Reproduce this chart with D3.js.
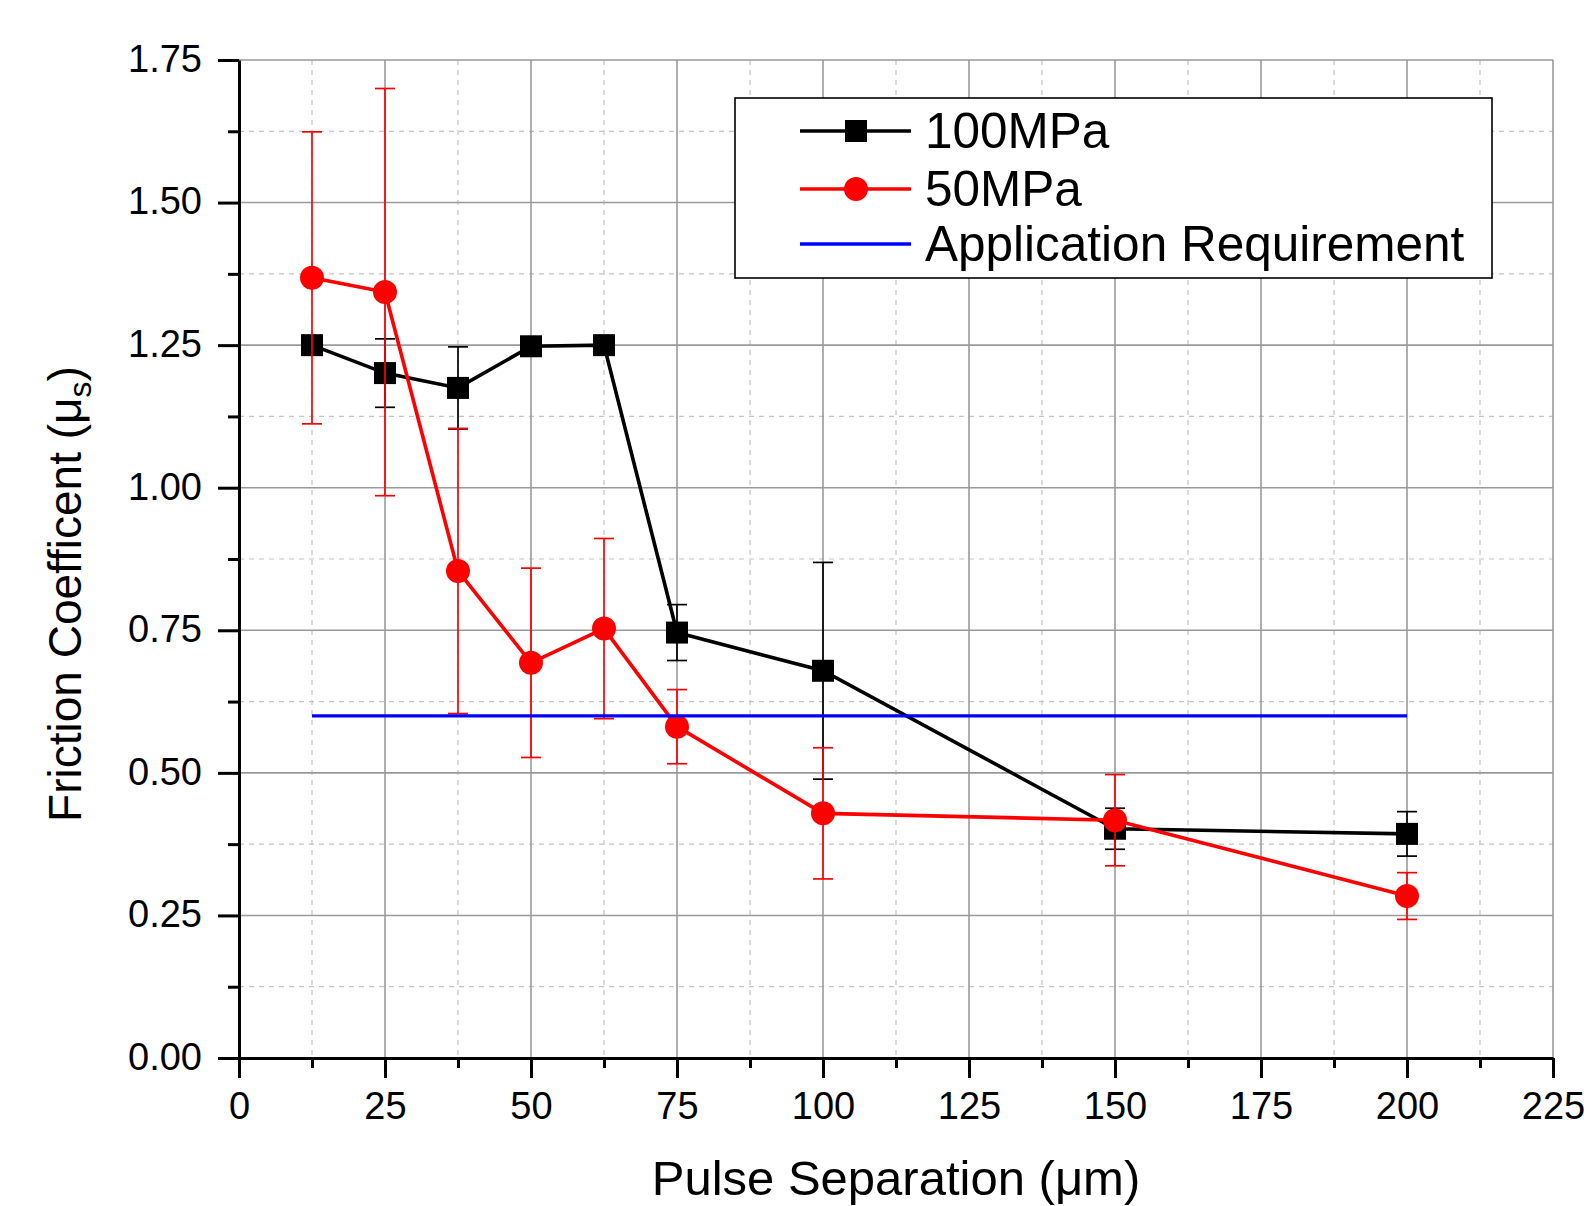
<!DOCTYPE html>
<html>
<head>
<meta charset="utf-8">
<script src="https://cdn.jsdelivr.net/npm/d3@7"></script>
<style>
body { margin: 0; background: #fff; }
text { font-family: "Liberation Sans", Arial, sans-serif; fill: #000; }
</style>
</head>
<body>
<svg id="chart" width="1584" height="1206"></svg>
<script>
var separation = [12.5, 25, 37.5, 50, 62.5, 75, 100, 150, 200],
    friction100 = [1.25, 1.201, 1.175, 1.248, 1.25, 0.746, 0.679, 0.402, 0.393],
    err100 = [0, 0.06, 0.072, 0, 0, 0.049, 0.19, 0.036, 0.039],
    friction50 = [1.368, 1.343, 0.854, 0.693, 0.753, 0.581, 0.429, 0.417, 0.284],
    err50 = [0.256, 0.357, 0.25, 0.166, 0.158, 0.065, 0.115, 0.08, 0.041],
    requirement = [0.6, 0.6],
    requirementX = [12.5, 200],
    xTicks = [0, 25, 50, 75, 100, 125, 150, 175, 200, 225],
    yTicks = [0, 0.25, 0.5, 0.75, 1, 1.25, 1.5, 1.75],
    seriesNames = ['100MPa', '50MPa', 'Application Requirement'];

var svg = d3.select('#chart'),
    plotL = 239, plotR = 1553, plotT = 60, plotB = 1058,
    x = d3.scaleLinear().domain([0, 225]).range([plotL, plotR]),
    y = d3.scaleLinear().domain([0, 1.75]).range([plotB, plotT]),
    xMinor = d3.range(12.5, 225, 25),
    yMinor = d3.range(0.125, 1.75, 0.25);

// grid: dashed minor first, then solid major
var grid = svg.append('g');
grid.selectAll('line.xm').data(xMinor).enter().append('line')
    .attr('x1', x).attr('x2', x).attr('y1', plotT).attr('y2', plotB)
    .attr('stroke', '#c4c4c4').attr('stroke-width', 1.2).attr('stroke-dasharray', '5,5');
grid.selectAll('line.ym').data(yMinor).enter().append('line')
    .attr('y1', y).attr('y2', y).attr('x1', plotL).attr('x2', plotR)
    .attr('stroke', '#c4c4c4').attr('stroke-width', 1.2).attr('stroke-dasharray', '5,5');
grid.selectAll('line.xM').data(xTicks.slice(1)).enter().append('line')
    .attr('x1', x).attr('x2', x).attr('y1', plotT).attr('y2', plotB)
    .attr('stroke', '#9a9a9a').attr('stroke-width', 1.6);
grid.selectAll('line.yM').data(yTicks.slice(1)).enter().append('line')
    .attr('y1', y).attr('y2', y).attr('x1', plotL).attr('x2', plotR)
    .attr('stroke', '#9a9a9a').attr('stroke-width', 1.6);

// axes
function styleAxis(g) {
    g.select('.domain').attr('stroke', '#000').attr('stroke-width', 3);
    g.selectAll('.tick line').attr('stroke', '#000').attr('stroke-width', 3);
}
var xAxis = svg.append('g').attr('transform', 'translate(0,' + plotB + ')')
    .call(d3.axisBottom(x).tickValues(xTicks).tickSize(20).tickSizeOuter(0).tickPadding(14).tickFormat(d3.format('d')))
    .call(styleAxis);
xAxis.selectAll('.tick text').attr('font-size', 38).attr('font-family', '"Liberation Sans", Arial, sans-serif').attr('fill', '#000');
svg.append('g').attr('transform', 'translate(0,' + plotB + ')')
    .call(d3.axisBottom(x).tickValues(xMinor).tickSize(10).tickFormat(''))
    .call(styleAxis).select('.domain').remove();

var yAxis = svg.append('g').attr('transform', 'translate(' + plotL + ',0)')
    .call(d3.axisLeft(y).tickValues(yTicks).tickSize(21).tickSizeOuter(0).tickPadding(16).tickFormat(d3.format('.2f')))
    .call(styleAxis);
yAxis.selectAll('.tick text').attr('font-size', 38).attr('font-family', '"Liberation Sans", Arial, sans-serif').attr('fill', '#000').attr('dy', '0.30em');
svg.append('g').attr('transform', 'translate(' + plotL + ',0)')
    .call(d3.axisLeft(y).tickValues(yMinor).tickSize(11).tickFormat(''))
    .call(styleAxis).select('.domain').remove();

// axis titles
svg.append('text').attr('x', 896).attr('y', 1195)
    .attr('text-anchor', 'middle').attr('font-size', 49)
    .text('Pulse Separation (\u03bcm)');
var yt = svg.append('text').attr('transform', 'translate(81,594) rotate(-90)')
    .attr('text-anchor', 'middle').attr('font-size', 46);
yt.append('tspan').text('Friction Coefficent (\u03bc');
yt.append('tspan').attr('font-size', 32).attr('dy', 10).text('s');
yt.append('tspan').attr('dy', -10).text(')');

// series
function drawSeries(vals, errs, color, marker) {
    var g = svg.append('g'),
        pts = separation.map(function (s, i) { return {x: s, y: vals[i], e: errs[i]}; }),
        bars = pts.filter(function (d) { return d.e > 0; });
    g.append('path').datum(pts)
        .attr('d', d3.line().x(function (d) { return x(d.x); }).y(function (d) { return y(d.y); }))
        .attr('fill', 'none').attr('stroke', color).attr('stroke-width', 3.6);
    g.selectAll('line.eb').data(bars).enter().append('line')
        .attr('x1', function (d) { return x(d.x); }).attr('x2', function (d) { return x(d.x); })
        .attr('y1', function (d) { return y(d.y + d.e); }).attr('y2', function (d) { return y(d.y - d.e); })
        .attr('stroke', color).attr('stroke-width', 1.7);
    [1, -1].forEach(function (sgn) {
        g.selectAll('line.cap' + sgn).data(bars).enter().append('line')
            .attr('x1', function (d) { return x(d.x) - 10; }).attr('x2', function (d) { return x(d.x) + 10; })
            .attr('y1', function (d) { return y(d.y + sgn * d.e); }).attr('y2', function (d) { return y(d.y + sgn * d.e); })
            .attr('stroke', color).attr('stroke-width', 1.7);
    });
    if (marker === 'square') {
        g.selectAll('rect').data(pts).enter().append('rect')
            .attr('x', function (d) { return x(d.x) - 11; }).attr('y', function (d) { return y(d.y) - 11; })
            .attr('width', 22).attr('height', 22).attr('fill', color);
    } else {
        g.selectAll('circle').data(pts).enter().append('circle')
            .attr('cx', function (d) { return x(d.x); }).attr('cy', function (d) { return y(d.y); })
            .attr('r', 12).attr('fill', color);
    }
}
drawSeries(friction100, err100, '#000', 'square');
drawSeries(friction50, err50, '#ff0000', 'circle');

svg.append('line')
    .attr('x1', x(requirementX[0])).attr('x2', x(requirementX[1]))
    .attr('y1', y(requirement[0])).attr('y2', y(requirement[1]))
    .attr('stroke', '#0000ff').attr('stroke-width', 3.4);

// legend
var lg = svg.append('g');
lg.append('rect').attr('x', 735).attr('y', 98).attr('width', 757).attr('height', 180)
    .attr('fill', '#fff').attr('stroke', '#000').attr('stroke-width', 1.6);
var rowY = [131, 189, 244],
    rowColor = ['#000', '#ff0000', '#0000ff'];
seriesNames.forEach(function (name, i) {
    lg.append('line').attr('x1', 800).attr('x2', 911).attr('y1', rowY[i]).attr('y2', rowY[i])
        .attr('stroke', rowColor[i]).attr('stroke-width', 3.6);
    if (i === 0) {
        lg.append('rect').attr('x', 845).attr('y', rowY[i] - 11).attr('width', 22).attr('height', 22).attr('fill', '#000');
    } else if (i === 1) {
        lg.append('circle').attr('cx', 856).attr('cy', rowY[i]).attr('r', 12).attr('fill', '#ff0000');
    }
    lg.append('text').attr('x', 925).attr('y', rowY[i] + 17).attr('font-size', 49.5).text(name);
});
</script>
</body>
</html>
